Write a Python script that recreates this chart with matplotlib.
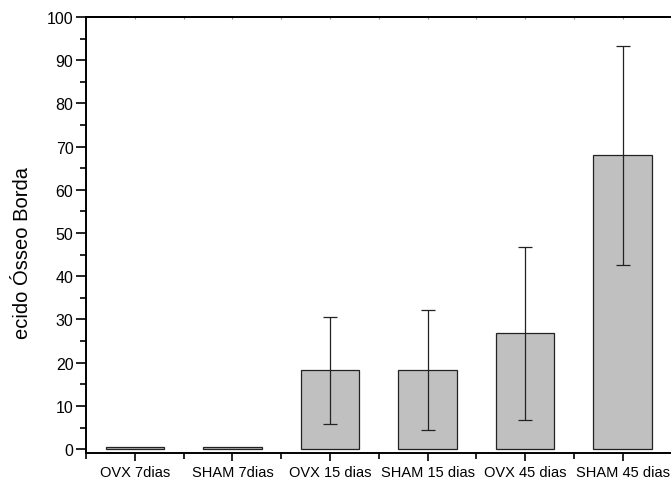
import matplotlib
matplotlib.use("Agg")
import matplotlib.pyplot as plt
import numpy as np

# dados do grafico
grupos = ["OVX 7dias", "SHAM 7dias", "OVX 15 dias", "SHAM 15 dias", "OVX 45 dias", "SHAM 45 dias"]
medias = [0.4, 0.4, 18.2, 18.3, 26.8, 68.0]
desvios = [0.0, 0.0, 12.45, 13.85, 20.05, 25.4]

plt.rcParams['font.family'] = ['Liberation Sans', 'DejaVu Sans']

fig = plt.figure(figsize=(6.71, 4.85), dpi=100)
ax = fig.add_axes([86 / 671, 31 / 485, 585.5 / 671, 436 / 485])

x = np.arange(1, len(grupos) + 1)
ax.bar(x, medias, width=0.6, color='#c0c0c0', edgecolor='#222222', linewidth=0.9, zorder=2)
# barras de erro so onde tem desvio
tem = [i for i, d in enumerate(desvios) if d > 0]
ax.errorbar(x[tem], [medias[i] for i in tem], yerr=[desvios[i] for i in tem], fmt='none',
            ecolor='#222222', elinewidth=0.9, capsize=5, capthick=0.9, zorder=3)

ax.set_xlim(0.5, 6.5)
ax.set_ylim(-0.9, 100)
ax.set_yticks(np.arange(0, 101, 10))
ax.set_yticks(np.arange(5, 100, 10), minor=True)
ax.set_xticks(x)
ax.set_xticklabels(grupos)
ax.set_xticks(np.arange(0.5, 6.6, 1), minor=True)

for s in ax.spines.values():
    s.set_linewidth(1.4)
ax.spines['right'].set_color('#dddddd')

ax.tick_params(axis='y', which='major', direction='out', length=7, width=1.2, labelsize=11.5, pad=2)
ax.tick_params(axis='y', which='minor', direction='out', length=4, width=1.2)
ax.tick_params(axis='x', which='major', direction='out', length=6, width=1.2, labelsize=10.5, pad=3)
ax.tick_params(axis='x', which='minor', direction='out', length=4, width=1.2)

# marcas pequenas no eixo de cima
top = ax.secondary_xaxis('top')
top.set_xticks(np.arange(0.5, 6.6, 0.5))
top.set_xticklabels([])
top.tick_params(direction='in', length=1.5, width=0.8, color='#888888')
top.spines['top'].set_linewidth(1.4)

ax.set_ylabel("ecido Ósseo Borda", fontsize=14.5)
ax.yaxis.set_label_coords(-0.092, 0.46)

fig.savefig("out.png", dpi=100)
